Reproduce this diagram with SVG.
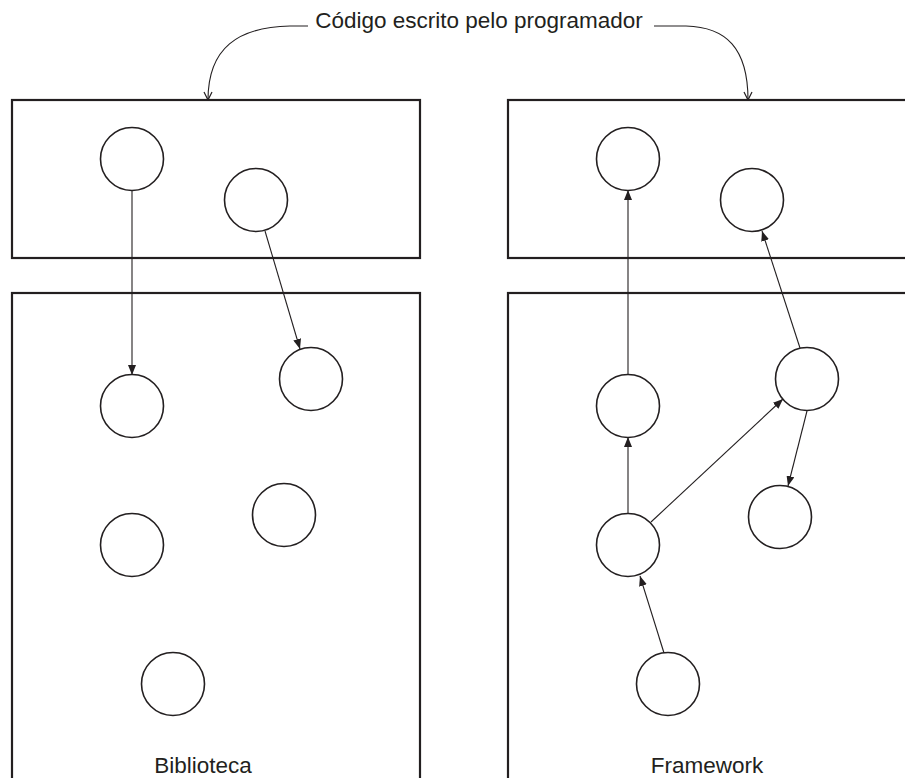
<svg xmlns="http://www.w3.org/2000/svg" width="905" height="778" viewBox="0 0 905 778">
  <style>
    .box { fill: none; stroke: #231f20; stroke-width: 2.2; }
    .node circle { fill: #fff; stroke: #231f20; stroke-width: 1.6; }
    .edge { fill: none; stroke: #231f20; stroke-width: 1.1; marker-end: url(#solid); }
    .bend { fill: none; stroke: #231f20; stroke-width: 1.1; marker-end: url(#open); }
    text { font-family: "Liberation Sans", Arial, sans-serif; fill: #231f20; font-size: 22.5px; }
  </style>
  <defs>
    <marker id="solid" viewBox="0 0 10 8" refX="10" refY="4" markerWidth="10" markerHeight="8" markerUnits="userSpaceOnUse" orient="auto">
      <path d="M0,0 L10,4 L0,8 Z" fill="#231f20"/>
    </marker>
    <marker id="open" viewBox="0 0 10 10" refX="9" refY="5" markerWidth="10" markerHeight="10" markerUnits="userSpaceOnUse" orient="auto">
      <path d="M1,1 L9,5 L1,9" fill="none" stroke="#231f20" stroke-width="1.2"/>
    </marker>
  </defs>

  <rect width="905" height="778" fill="#fff"/>

  <!-- containers -->
  <g id="containers">
    <rect id="lib-code" class="box" x="12" y="100" width="408" height="158"/>
    <rect id="fw-code" class="box" x="508" y="100" width="410" height="158"/>
    <rect id="lib" class="box" x="12" y="293" width="408" height="500"/>
    <rect id="fw" class="box" x="508" y="293" width="410" height="500"/>
  </g>

  <!-- caption and pointers -->
  <text x="479" y="28" text-anchor="middle">Código escrito pelo programador</text>
  <g id="pointers">
    <path class="bend" d="M308 26 L290 26 C238 27 208 48 208 100"/>
    <path class="bend" d="M654 26 L686 26 C726 27 748 48 748 100"/>
  </g>

  <!-- connectors -->
  <g id="connectors">
    <line class="edge" x1="132" y1="190" x2="132" y2="375"/>
    <line class="edge" x1="265" y1="231" x2="300" y2="349"/>
    <line class="edge" x1="628" y1="375" x2="628" y2="190"/>
    <line class="edge" x1="628" y1="514" x2="628" y2="437"/>
    <line class="edge" x1="651" y1="522" x2="783" y2="399"/>
    <line class="edge" x1="807" y1="411" x2="788" y2="486"/>
    <line class="edge" x1="800" y1="348" x2="762" y2="231"/>
    <line class="edge" x1="664" y1="653" x2="640" y2="576"/>
  </g>

  <!-- nodes -->
  <g id="n1" class="node"><circle cx="132" cy="159" r="31.5"/></g>
  <g id="n2" class="node"><circle cx="256" cy="200" r="31.5"/></g>
  <g id="n3" class="node"><circle cx="132" cy="406" r="31.5"/></g>
  <g id="n4" class="node"><circle cx="311" cy="379" r="31.5"/></g>
  <g id="n5" class="node"><circle cx="284" cy="515" r="31.5"/></g>
  <g id="n6" class="node"><circle cx="132" cy="545" r="31.5"/></g>
  <g id="n7" class="node"><circle cx="173" cy="684" r="31.5"/></g>

  <g id="m1" class="node"><circle cx="628" cy="159" r="31.5"/></g>
  <g id="m2" class="node"><circle cx="752" cy="200" r="31.5"/></g>
  <g id="m3" class="node"><circle cx="628" cy="406" r="31.5"/></g>
  <g id="m4" class="node"><circle cx="807" cy="379" r="31.5"/></g>
  <g id="m5" class="node"><circle cx="780" cy="517" r="31.5"/></g>
  <g id="m6" class="node"><circle cx="628" cy="545" r="31.5"/></g>
  <g id="m7" class="node"><circle cx="668" cy="684" r="31.5"/></g>

  <!-- labels -->
  <text x="203" y="773" text-anchor="middle">Biblioteca</text>
  <text x="707" y="773" text-anchor="middle">Framework</text>
</svg>
